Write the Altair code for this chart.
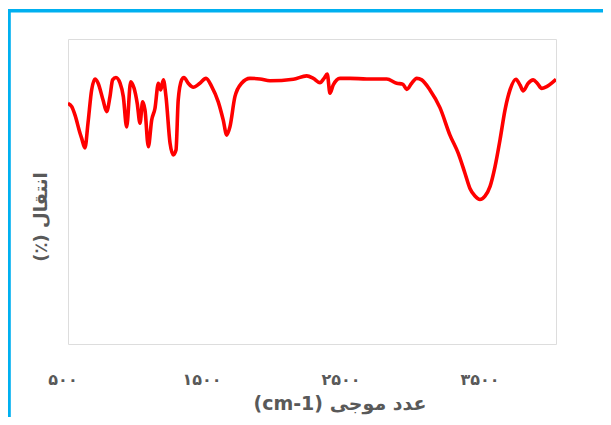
import altair as alt
import pandas as pd

# IR spectrum (wavenumber, transmittance %)
wavenumber = [536, 563, 586, 622, 634, 658, 680, 706, 730, 752, 788, 814, 838, 857, 881,
              910, 934, 958, 987, 1011, 1034, 1054, 1073, 1090, 1114, 1138, 1162, 1186,
              1203, 1222, 1241, 1270, 1293, 1313, 1329, 1354, 1370, 1401, 1437, 1485,
              1529, 1570, 1617, 1653, 1678, 1701, 1737, 1785, 1845, 1917, 1989, 2157,
              2253, 2301, 2349, 2378, 2401, 2421, 2444, 2493, 2565, 2685, 2829, 2901,
              2944, 2973, 3009, 3045, 3081, 3140, 3212, 3284, 3344, 3392, 3428, 3464,
              3500, 3536, 3572, 3608, 3644, 3680, 3716, 3759, 3788, 3811, 3847, 3883,
              3912, 3944, 3980, 4047]
transmittance = [78.9, 77.8, 75.1, 69.2, 67.5, 64.3, 72.5, 83.3, 86.9, 85.6, 80.0, 76.2,
                 81.1, 86.6, 87.4, 85.6, 81.1, 71.2, 86.0, 83.9, 78.9, 72.4, 79.4, 76.7,
                 64.7, 73.4, 77.3, 85.5, 83.3, 86.6, 81.1, 65.9, 62.0, 63.6, 80.0, 86.6,
                 87.4, 85.5, 84.2, 85.5, 87.1, 84.4, 79.4, 73.4, 68.5, 71.2, 81.1, 85.5,
                 87.1, 86.9, 86.3, 86.8, 87.9, 87.1, 85.7, 87.1, 88.5, 82.2, 84.9, 87.1,
                 87.1, 86.9, 86.9, 85.5, 85.2, 83.5, 85.5, 87.1, 86.6, 83.3, 77.5, 68.5,
                 62.5, 56.0, 51.0, 48.5, 47.4, 48.5, 51.6, 58.1, 66.9, 76.7, 83.3, 86.8,
                 84.9, 83.0, 85.5, 86.6, 85.5, 83.8, 84.4, 86.8]

tick_values = [500, 1500, 2500, 3500]
tick_labels = ["۵۰۰", "۱۵۰۰", "۲۵۰۰", "۳۵۰۰"]

x_title = "(cm-1) عدد موجی"
y_title = "(٪) انتقال"

W, H = 488, 305
FONT = "DejaVu Sans"
GRAY = "#595959"

xscale = alt.Scale(domain=[536, 4047], nice=False, zero=False)
yscale = alt.Scale(domain=[0, 100], nice=False)

df = pd.DataFrame({"wn": wavenumber, "t": transmittance})
ticks = pd.DataFrame({"v": tick_values, "lab": tick_labels})
one = pd.DataFrame({"a": [0]})

line = alt.Chart(df).mark_line(color="#FF0000", strokeWidth=3.6, interpolate="monotone", clip=True).encode(
    x=alt.X("wn:Q", scale=xscale, axis=None),
    y=alt.Y("t:Q", scale=yscale, axis=None),
)

labels = alt.Chart(ticks).mark_text(font=FONT, fontSize=16, fontWeight="bold", color=GRAY,
                                    baseline="middle", align="center").encode(
    x=alt.X("v:Q", scale=xscale, axis=None),
    y=alt.value(H + 36),
    text="lab:N",
)

xt = alt.Chart(one).mark_text(text=x_title, font=FONT, fontSize=19, fontWeight="bold", color=GRAY,
                              baseline="middle", align="center").encode(
    x=alt.value(272), y=alt.value(H + 60))

yt = alt.Chart(one).mark_text(text=y_title, font=FONT, fontSize=18, fontWeight="bold", color=GRAY,
                              baseline="middle", align="center", angle=270).encode(
    x=alt.value(-26), y=alt.value(178))

frame = alt.Chart(one).mark_rect(fill=None, fillOpacity=0, stroke="#00B0F0", strokeWidth=3.6).encode(
    x=alt.value(-59), x2=alt.value(700), y=alt.value(-28.2), y2=alt.value(600))

chart = alt.layer(frame, line, labels, xt, yt).properties(
    width=W, height=H,
    autosize=alt.AutoSizeParams(type="none"),
    padding={"left": 60, "top": 31, "right": 47, "bottom": 73},
).configure_view(stroke="#D0D0D0", strokeWidth=1).configure(background="white")

chart.save("out.html", embed_options={"renderer": "svg", "actions": False})
